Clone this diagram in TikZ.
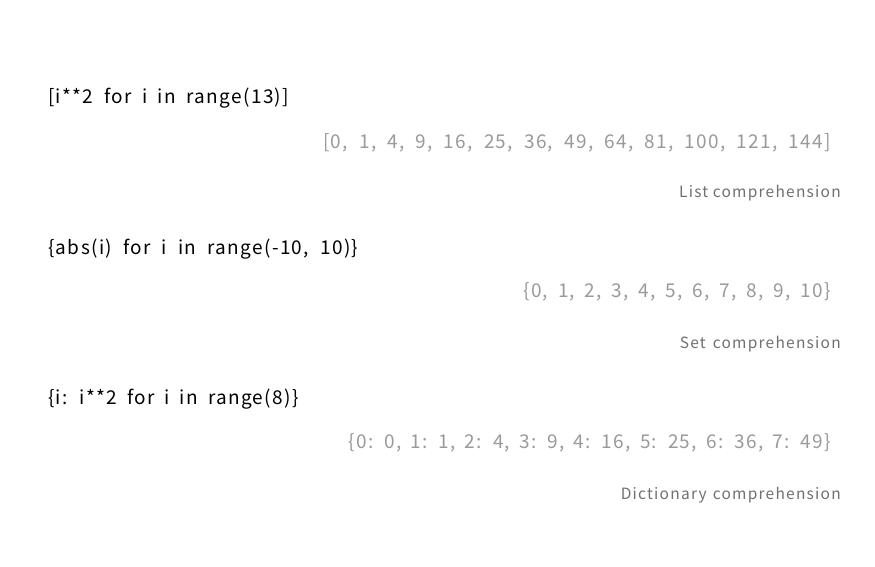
\documentclass[tikz,border=0pt]{standalone}
\usepackage{fontspec}
\setmainfont{Noto Sans CJK KR}[LetterSpace=7]
\newfontfamily\labfont{Noto Sans CJK KR}[LetterSpace=8]
\definecolor{resgray}{HTML}{9A9A9A}
\definecolor{labgray}{HTML}{707070}
\newcommand\sps[1]{\spaceskip=#1pt\relax}
\begin{document}
\begin{tikzpicture}[x=1pt,y=-1pt,
  code/.style={anchor=base west,inner sep=0pt,font=\fontsize{19}{22}\selectfont,text=black},
  result/.style={anchor=base east,inner sep=0pt,font=\fontsize{19}{22}\selectfont,text=resgray},
  label/.style={anchor=base east,inner sep=0pt,font=\labfont\fontsize{15.5}{18}\selectfont,text=labgray}]
\useasboundingbox[fill=white] (0,0) rectangle (875,567);
\node[code] (c1) at (48,104) {\sps{10.6}[i**2 for i in range(13)]};
\node[result] (r1) at (831,148) {\sps{11.1}[0, 1, 4, 9, 16, 25, 36, 49, 64, 81, 100, 121, 144]};
\node[label] (l1) at (841,197) {\sps{4.5}List comprehension};
\node[code] (c2) at (48,254) {\sps{11.2}\{abs(i) for i in range(-10, 10)\}};
\node[result] (r2) at (831,297) {\sps{9.8}\{0, 1, 2, 3, 4, 5, 6, 7, 8, 9, 10\}};
\node[label] (l2) at (841,348) {\sps{7}Set comprehension};
\node[code] (c3) at (48,404) {\sps{10}\{i: i**2 for i in range(8)\}};
\node[result] (r3) at (831,448) {\sps{9.1}\{0: 0, 1: 1, 2: 4, 3: 9, 4: 16, 5: 25, 6: 36, 7: 49\}};
\node[label] (l3) at (841,499) {\sps{6}Dictionary comprehension};
\end{tikzpicture}
\end{document}
